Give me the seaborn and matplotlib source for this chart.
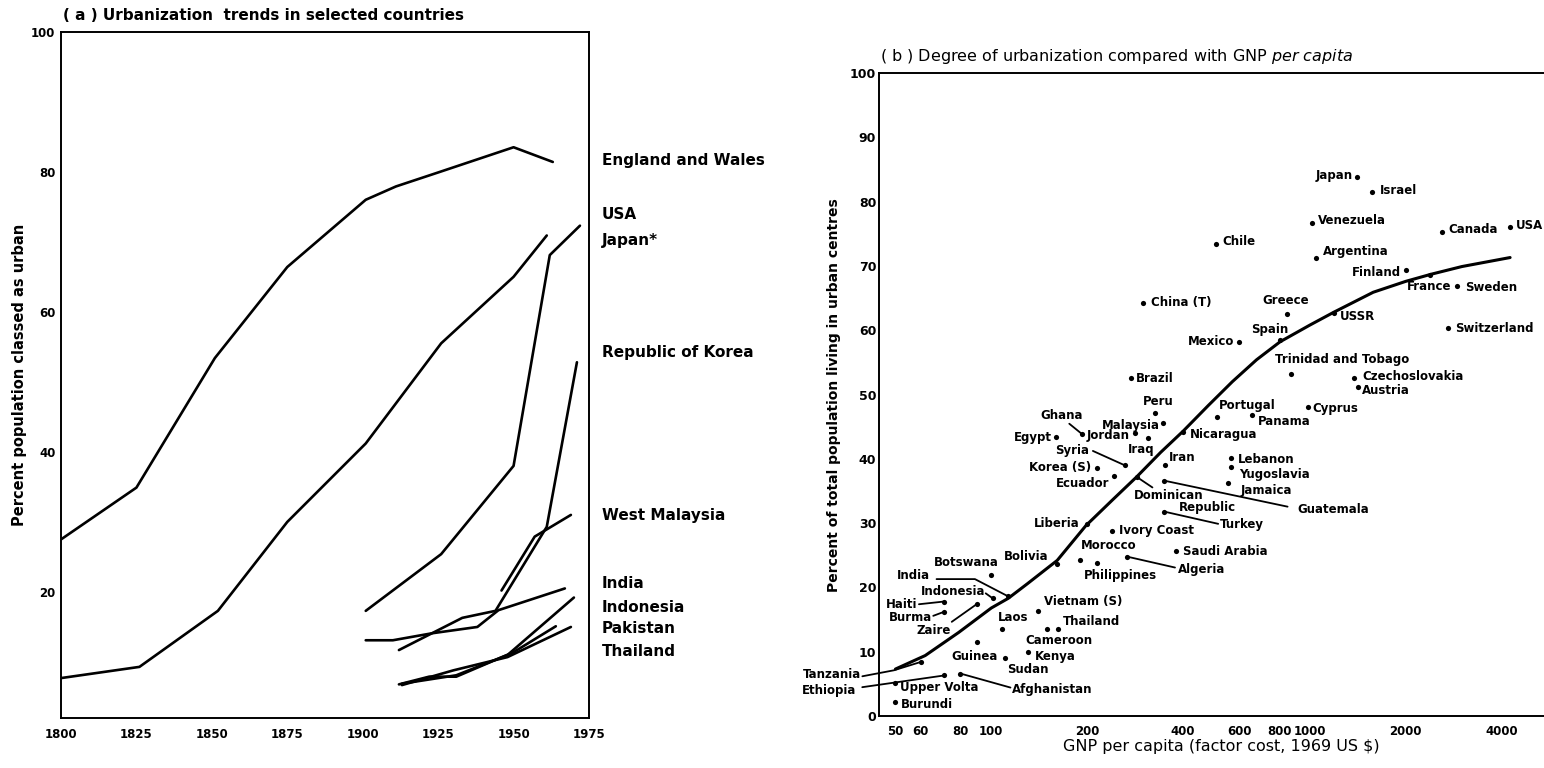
import numpy as np
import pandas as pd
import matplotlib
matplotlib.use('Agg')
import matplotlib.pyplot as plt
import seaborn as sns

# ---------------- panel (a): urbanization trends ----------------
ew_year = [1800, 1825, 1851, 1875, 1901, 1911, 1925, 1950, 1963]
ew_pct = [27.5, 34.9, 53.4, 66.4, 76.0, 77.9, 79.9, 83.5, 81.4]
usa_year = [1800, 1826, 1852, 1875, 1901, 1926, 1950, 1961]
usa_pct = [7.7, 9.3, 17.3, 30.0, 41.2, 55.5, 65.0, 70.9]
japan_year = [1901, 1926, 1950, 1962, 1972]
japan_pct = [17.3, 25.4, 38.0, 68.1, 72.3]
korea_year = [1912, 1933, 1944, 1961, 1971]
korea_pct = [11.7, 16.3, 17.3, 29.3, 52.8]
malaysia_year = [1946, 1957, 1969]
malaysia_pct = [20.2, 27.9, 31.0]
india_year = [1901, 1910, 1923, 1938, 1945, 1967]
india_pct = [13.1, 13.1, 14.1, 15.0, 17.4, 20.5]
indonesia_year = [1913, 1931, 1948, 1970]
indonesia_pct = [6.9, 8.1, 11.0, 19.2]
pakistan_year = [1912, 1922, 1931, 1950, 1964]
pakistan_pct = [6.8, 7.9, 7.9, 11.4, 15.1]
thailand_year = [1913, 1930, 1948, 1969]
thailand_pct = [6.7, 8.8, 10.7, 15.0]

trend_names = ['England and Wales', 'USA', 'Japan*', 'Republic of Korea', 'West Malaysia',
               'India', 'Indonesia', 'Pakistan', 'Thailand']
trend_label_y = [81.6, 73.9, 70.2, 54.2, 30.9, 21.2, 17.8, 14.8, 11.5]

# ---------------- panel (b): urbanization vs GNP per capita ----------------
countries = ['Japan', 'Israel', 'Venezuela', 'Canada', 'USA', 'Chile', 'Argentina', 'Finland',
             'France', 'Sweden', 'China (T)', 'Greece', 'USSR', 'Switzerland', 'Spain', 'Mexico',
             'Trinidad and Tobago', 'Czechoslovakia', 'Austria', 'Brazil', 'Peru', 'Portugal',
             'Panama', 'Cyprus', 'Malaysia', 'Ghana', 'Jordan', 'Iraq', 'Egypt', 'Nicaragua',
             'Syria', 'Iran', 'Lebanon', 'Yugoslavia', 'Korea (S)', 'Ecuador', 'Jamaica',
             'Dominican Republic', 'Guatemala', 'Turkey', 'Liberia', 'Ivory Coast', 'Saudi Arabia',
             'Morocco', 'Philippines', 'Algeria', 'Bolivia', 'Botswana', 'India', 'Indonesia',
             'Haiti', 'Burma', 'Zaire', 'Laos', 'Vietnam (S)', 'Thailand', 'Cameroon', 'Kenya',
             'Guinea', 'Sudan', 'Tanzania', 'Ethiopia', 'Afghanistan', 'Upper Volta', 'Burundi']
gnp = [1402, 1562, 1012, 2607, 4244, 507, 1046, 2007,
       2380, 2901, 300, 849, 1189, 2718, 806, 598,
       871, 1379, 1419, 274, 326, 510,
       660, 985, 347, 192, 283, 311, 160, 400,
       262, 352, 567, 567, 214, 243, 555,
       286, 349, 348, 200, 239, 381,
       190, 214, 266, 161, 100, 113, 101,
       71, 71, 90, 108, 140, 162, 149, 130,
       90, 110, 60, 71, 80, 50, 50]
urban = [83.9, 81.5, 76.6, 75.2, 76.0, 73.4, 71.3, 69.3,
         68.6, 66.9, 64.2, 62.5, 62.6, 60.3, 58.5, 58.2,
         53.2, 52.6, 51.1, 52.5, 47.1, 46.5,
         46.8, 48.1, 45.6, 43.9, 44.0, 43.3, 43.4, 44.1,
         39.0, 39.0, 40.2, 38.8, 38.6, 37.3, 36.3,
         37.1, 36.6, 31.8, 29.9, 28.8, 25.6,
         24.3, 23.8, 24.8, 23.6, 21.9, 18.6, 18.3,
         17.8, 16.2, 17.4, 13.6, 16.4, 13.5, 13.5, 9.9,
         11.5, 9.0, 8.4, 6.3, 6.6, 5.1, 2.2]

curve_gnp = [50, 62, 79, 100, 113, 130, 161, 198, 240, 286, 340, 400, 480, 571, 680, 806,
             1000, 1189, 1580, 2000, 2400, 3000, 4250]
curve_pct = [7.3, 9.4, 13.0, 16.8, 18.3, 20.6, 24.2, 29.6, 33.6, 37.2, 41.0, 44.3, 48.3, 52.0,
             55.4, 58.2, 60.8, 62.8, 65.9, 67.6, 68.7, 69.9, 71.3]

# label placement (pixel offsets from the dot, alignment)
label_pos = {
    'Japan': (-4, 0.7, 'right'), 'Israel': (8.3, 1.7, 'left'), 'Venezuela': (6.7, 3.3, 'left'),
    'Canada': (5.7, 3.3, 'left'), 'USA': (6, 2.3, 'left'), 'Chile': (6.7, 2.3, 'left'),
    'Argentina': (6.7, 5.7, 'left'), 'Finland': (-5, -1.7, 'right'), 'France': (-1, -11.7, 'center'),
    'Sweden': (7.7, -1.7, 'left'), 'China (T)': (7.3, 0.7, 'left'), 'Greece': (-1.3, 13.7, 'center'),
    'USSR': (6, -3.3, 'left'), 'Switzerland': (6.7, 0, 'left'), 'Spain': (-10.7, 10, 'center'),
    'Mexico': (-4.3, 0.7, 'right'), 'Trinidad and Tobago': (-15.7, 14.7, 'left'),
    'Czechoslovakia': (8.3, 1.7, 'left'), 'Austria': (3.3, -3.3, 'left'), 'Brazil': (5.3, 0, 'left'),
    'Peru': (3.3, 11.7, 'center'), 'Portugal': (2.3, 11.7, 'left'), 'Panama': (5.7, -6.7, 'left'),
    'Cyprus': (5, -1.7, 'left'), 'Malaysia': (-4, -2.3, 'right'), 'Ghana': (-20, 18.3, 'center'),
    'Jordan': (-5.7, -2.7, 'right'), 'Iraq': (-6.7, -11.7, 'center'), 'Egypt': (-4, -1, 'right'),
    'Nicaragua': (6.7, -2.3, 'left'), 'Syria': (-35, 15, 'right'), 'Iran': (3.3, 7.7, 'left'),
    'Lebanon': (6.7, -2, 'left'), 'Yugoslavia': (7.7, -8.3, 'left'), 'Korea (S)': (-5, 0, 'right'),
    'Ecuador': (-5, -7, 'right'), 'Jamaica': (11.7, -8, 'left'),
    'Guatemala': (133, -28.7, 'left'), 'Turkey': (56, -13.3, 'left'), 'Liberia': (-7.3, 0, 'right'),
    'Ivory Coast': (6.7, 0, 'left'), 'Saudi Arabia': (6.7, 0, 'left'), 'Morocco': (28.3, 14.3, 'center'),
    'Philippines': (24, -13, 'center'), 'Algeria': (51.7, -13.3, 'left'), 'Bolivia': (-31, 7.3, 'center'),
    'Botswana': (-25, 12.7, 'center'), 'India': (-78, 20.7, 'right'), 'Indonesia': (-7, 6.7, 'right'),
    'Haiti': (-27, -2.7, 'right'), 'Burma': (-12, -5.7, 'right'), 'Zaire': (-26, -26, 'right'),
    'Laos': (-4.3, 11, 'left'), 'Vietnam (S)': (5.7, 9, 'left'), 'Thailand': (4.3, 7.7, 'left'),
    'Cameroon': (12.7, -11.3, 'center'), 'Kenya': (7.7, -3.7, 'left'), 'Guinea': (-1.7, -14.3, 'center'),
    'Sudan': (23, -11, 'center'), 'Tanzania': (-60, -12.7, 'right'), 'Ethiopia': (-87.3, -15.3, 'right'),
    'Afghanistan': (51.7, -16, 'left'), 'Upper Volta': (4.3, -4, 'left'), 'Burundi': (5.7, -2.3, 'left'),
}
leaders = {
    'Ghana': [(-12.3, 10), (0, 0)], 'Syria': [(-31.7, 14.3), (0, 0)],
    'Dominican Republic': [(2.3, -1), (15.7, -10)], 'Guatemala': [(0, 0), (123.3, -26)],
    'Turkey': [(0, 0), (54.3, -12.3)], 'Algeria': [(0, 0), (48.3, -11)],
    'India': [(-71.7, 17.3), (-33.3, 17.3), (0, 0)], 'Indonesia': [(-7, 5), (0, 0)],
    'Haiti': [(-25, -2.7), (0, 0)], 'Burma': [(-10.7, -4), (0, 0)], 'Zaire': [(-25, -17.7), (0, 0)],
    'Tanzania': [(-58.3, -14.3), (-26.7, -8.3), (0, 0)], 'Ethiopia': [(-81.7, -11.7), (0, 0)],
    'Afghanistan': [(0, 0), (50, -14)],
}

sns.set_theme(style='white', rc={'axes.edgecolor': 'black', 'axes.linewidth': 1.4,
                                 'xtick.color': 'black', 'ytick.color': 'black',
                                 'text.color': 'black', 'axes.labelcolor': 'black'})
plt.rcParams['font.family'] = ['DejaVu Sans']

W, H = 1544, 768
fig = plt.figure(figsize=(W / 100, H / 100), dpi=100)


def fx(px):
    return px / W


def fy(py):
    return 1 - py / H


# ---------- panel (a) ----------
ax_a = fig.add_axes([fx(61), fy(718), fx(589) - fx(61), fy(31.7) - fy(718)])
series = [(ew_year, ew_pct), (usa_year, usa_pct), (japan_year, japan_pct), (korea_year, korea_pct),
          (malaysia_year, malaysia_pct), (india_year, india_pct), (indonesia_year, indonesia_pct),
          (pakistan_year, pakistan_pct), (thailand_year, thailand_pct)]
rows = []
for name, (yrs, vals) in zip(trend_names, series):
    for yr, v in zip(yrs, vals):
        rows.append({'country': name, 'year': yr, 'pct': v})
trend_df = pd.DataFrame(rows)
sns.lineplot(data=trend_df, x='year', y='pct', units='country', estimator=None, sort=False,
             color='black', lw=1.9, ax=ax_a, legend=False)
ax_a.set_xlim(1800, 1975)
ax_a.set_ylim(2, 100)
ax_a.set_xticks(range(1800, 1976, 25))
ax_a.set_yticks([20, 40, 60, 80, 100])
ax_a.tick_params(axis='both', direction='in', length=10, width=1.4, labelsize=8.5)
ax_a.tick_params(axis='x', pad=7)
ax_a.tick_params(axis='y', pad=4)
for lab in ax_a.get_xticklabels() + ax_a.get_yticklabels():
    lab.set_fontweight('bold')
ax_a.set_xlabel('')
ax_a.set_ylabel('')
for name, ly in zip(trend_names, trend_label_y):
    ax_a.text(1979.3, ly, name, fontsize=11, fontweight='bold', va='center', ha='left', clip_on=False)

fig.text(fx(63), fy(15), '( a ) Urbanization  trends in selected countries', fontsize=11,
         fontweight='bold', va='center', ha='left')
fig.text(fx(20), fy(375), 'Percent population classed as urban', fontsize=10.5, fontweight='bold',
         rotation=90, va='center', ha='center')

# ---------- panel (b) ----------
ax_b = fig.add_axes([fx(879), fy(716), 1 - fx(879), fy(73) - fy(716)])
ax_b.set_xscale('log')
gnp_df = pd.DataFrame({'country': countries, 'gnp': gnp, 'urban': urban})
sns.lineplot(x=curve_gnp, y=curve_pct, sort=False, estimator=None, color='black', lw=2.2, ax=ax_b)
sns.scatterplot(data=gnp_df, x='gnp', y='urban', color='black', s=14, linewidth=0, ax=ax_b, zorder=3)
ax_b.set_xlim(44.4, 5430)
ax_b.set_ylim(0, 100)
ax_b.spines['right'].set_visible(False)
major = [80, 90, 100, 200, 400, 600, 800, 1000, 2000, 4000]
ax_b.set_xticks(major, labels=['' if v == 90 else str(v) for v in major])
ax_b.set_xticks([50, 60], labels=['50', '60'], minor=True)
ax_b.set_yticks(range(0, 101, 10))
ax_b.tick_params(axis='x', which='major', direction='in', length=9.4, width=1.4, pad=6.5, labelsize=8.5)
ax_b.tick_params(axis='x', which='minor', direction='in', length=0, pad=6.5, labelsize=8.5)
ax_b.tick_params(axis='y', direction='in', length=10.8, width=1.4, pad=2, labelsize=9)
for lab in ax_b.get_xticklabels() + ax_b.get_xticklabels(minor=True) + ax_b.get_yticklabels():
    lab.set_fontweight('bold')
ax_b.set_xlabel('')
ax_b.set_ylabel('')


def offsets_to_data(ax, x, y, offs):
    base = ax.transData.transform((x, y))
    inv = ax.transData.inverted()
    return np.array([inv.transform((base[0] + dx, base[1] + dy)) for dx, dy in offs])


lab_kw = dict(fontsize=8.5, fontweight='bold', va='center', textcoords='offset pixels')
for name, gx, uy in zip(countries, gnp, urban):
    if name == 'Dominican Republic':
        ax_b.annotate('Dominican', (gx, uy), xytext=(-2.7, -17.7), ha='left', **lab_kw)
        ax_b.annotate('Republic', (gx, uy), xytext=(42.3, -30), ha='left', **lab_kw)
    else:
        dx, dy, ha = label_pos[name]
        ax_b.annotate(name, (gx, uy), xytext=(dx, dy), ha=ha, **lab_kw)
    if name in leaders:
        pts = offsets_to_data(ax_b, gx, uy, leaders[name])
        ax_b.plot(pts[:, 0], pts[:, 1], color='black', lw=1.3, clip_on=False)

fig.text(fx(880), fy(56), r'( b ) Degree of urbanization compared with GNP $\it{per\ capita}$',
         fontsize=11.5, va='center', ha='left')
fig.text(fx(834), fy(395), 'Percent of total population living in urban centres', fontsize=10,
         fontweight='bold', rotation=90, va='center', ha='center')
fig.text(fx(1221), fy(747), r'GNP per capita (factor cost, 1969 US \$)', fontsize=11.5,
         va='center', ha='center')

fig.savefig('out.png', dpi=100)
